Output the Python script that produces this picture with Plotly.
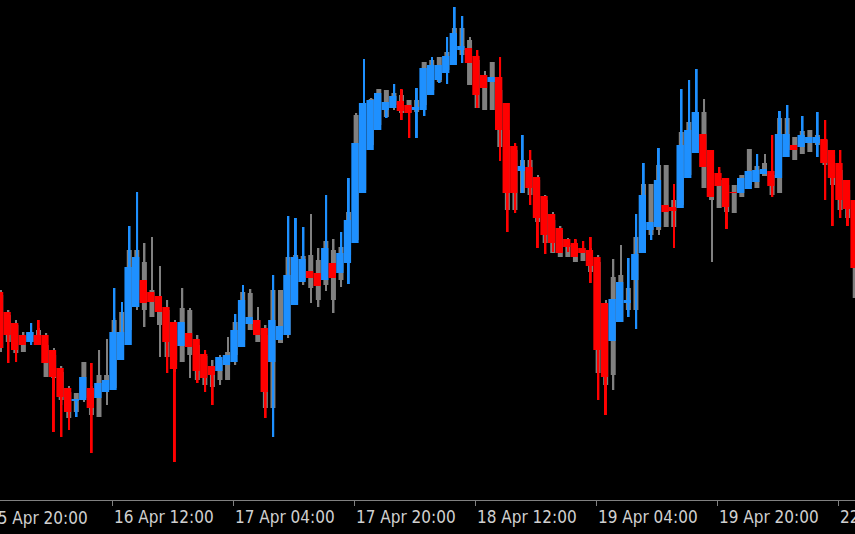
import plotly.graph_objects as go

# Hourly bars, index 0 = 15 Apr 20:00 (price in chart points)
bar_index = list(range(1, 115))

ha_open = [
    208, 188, 177, 165, 158, 165, 165, 150, 132, 112,
    99, 100, 112, 102, 108, 110, 140, 155, 193, 220,
    208, 204, 193, 178, 154, 167, 161, 146, 134, 129,
    135, 138, 153, 176, 180, 172, 138, 160, 165, 195,
    218, 229, 227, 220, 237, 227, 237, 257, 307, 350,
    370, 390, 392, 399, 395, 390, 390, 405, 420, 427,
    435, 450, 452, 444, 425, 418, 423, 397, 354, 329,
    333, 323, 304, 286, 272, 261, 257, 252, 250, 243,
    197, 159, 178, 197, 220, 247, 270, 273, 295, 293,
    292, 322, 347, 366, 350, 327, 322, 308, 307, 311,
    318, 326, 329, 322, 343, 355, 353, 357, 357, 361,
    350, 337, 320, 300]
ha_close = [
    152, 165, 150, 155, 168, 155, 137, 123, 103, 88,
    101, 123, 92, 117, 120, 168, 168, 233, 243, 197,
    198, 188, 158, 131, 178, 153, 129, 122, 125, 143,
    145, 170, 200, 183, 165, 108, 180, 174, 225, 243,
    241, 222, 214, 252, 222, 247, 280, 357, 397, 400,
    407, 398, 404, 389, 387, 393, 432, 435, 435, 444,
    467, 454, 437, 405, 412, 423, 370, 307, 307, 334,
    312, 282, 265, 257, 247, 253, 243, 247, 234, 150,
    123, 201, 218, 200, 246, 305, 278, 320, 288, 289,
    355, 370, 388, 333, 303, 314, 293, 307, 322, 329,
    330, 331, 314, 366, 366, 350, 365, 363, 363, 337,
    322, 300, 291, 232]
ha_high = [
    208, 188, 177, 165, 177, 180, 165, 150, 132, 112,
    101, 123, 137, 117, 120, 212, 198, 274, 308, 220,
    208, 204, 193, 178, 178, 167, 161, 150, 134, 143,
    145, 186, 215, 183, 180, 172, 225, 174, 284, 282,
    273, 229, 227, 305, 237, 268, 322, 357, 441, 400,
    407, 398, 416, 411, 395, 412, 432, 443, 435, 463,
    493, 484, 452, 450, 425, 423, 443, 397, 357, 365,
    350, 323, 304, 286, 272, 261, 261, 259, 263, 243,
    197, 201, 218, 242, 286, 337, 278, 352, 295, 316,
    411, 420, 431, 366, 350, 333, 322, 308, 322, 329,
    346, 331, 365, 389, 395, 355, 384, 363, 388, 380,
    350, 350, 320, 300]
ha_low = [
    152, 137, 138, 155, 155, 155, 137, 68, 63, 70,
    83, 100, 47, 102, 108, 110, 140, 155, 193, 197,
    198, 188, 127, 38, 154, 153, 117, 108, 95, 129,
    135, 138, 153, 176, 165, 82, 63, 160, 165, 195,
    218, 222, 214, 220, 222, 227, 216, 257, 307, 350,
    370, 382, 392, 380, 362, 362, 384, 405, 417, 416,
    435, 437, 437, 392, 412, 418, 339, 268, 287, 307,
    295, 252, 246, 248, 247, 248, 243, 247, 217, 100,
    85, 159, 178, 183, 171, 247, 260, 273, 288, 252,
    292, 322, 347, 333, 303, 314, 271, 307, 307, 311,
    318, 326, 303, 322, 343, 350, 353, 357, 343, 300,
    274, 282, 274, 232]

c_open = [
    205, 185, 175, 164, 158, 170, 155, 145, 128, 108,
    88, 102, 108, 83, 108, 112, 155, 170, 200, 238,
    210, 204, 190, 170, 138, 190, 155, 144, 130, 120,
    120, 145, 160, 170, 180, 165, 92, 157, 165, 200,
    220, 245, 240, 215, 250, 220, 245, 260, 310, 355,
    375, 383, 395, 405, 400, 388, 395, 410, 418, 430,
    440, 445, 460, 440, 425, 390, 410, 370, 350, 307,
    340, 320, 300, 280, 270, 255, 255, 252, 245, 238,
    180, 125, 178, 190, 190, 250, 265, 270, 335, 300,
    295, 325, 350, 388, 325, 320, 315, 315, 303, 315,
    312, 324, 325, 307, 350, 363, 346, 348, 355, 360,
    345, 330, 310, 290]
c_close = [
    152, 158, 147, 148, 168, 155, 123, 122, 100, 82,
    107, 138, 85, 125, 125, 180, 188, 250, 250, 190,
    183, 175, 143, 140, 192, 145, 120, 115, 113, 140,
    148, 178, 208, 207, 158, 92, 210, 210, 243, 245,
    244, 212, 200, 259, 200, 253, 288, 385, 397, 401,
    411, 410, 407, 387, 387, 400, 438, 440, 443, 448,
    472, 472, 415, 392, 390, 438, 353, 290, 290, 340,
    305, 278, 257, 247, 243, 243, 238, 239, 228, 127,
    115, 223, 225, 212, 263, 316, 316, 335, 273, 273,
    368, 378, 388, 312, 300, 292, 288, 287, 325, 351,
    334, 337, 305, 382, 382, 340, 369, 370, 365, 335,
    315, 290, 282, 202]
c_high = [
    210, 190, 180, 168, 174, 172, 167, 152, 134, 114,
    107, 138, 114, 150, 161, 182, 188, 250, 250, 257,
    263, 234, 200, 180, 212, 192, 165, 148, 140, 145,
    163, 178, 208, 211, 193, 175, 210, 210, 243, 245,
    244, 286, 252, 259, 261, 253, 288, 387, 400, 402,
    411, 410, 407, 410, 400, 400, 438, 440, 443, 448,
    472, 472, 463, 445, 429, 438, 429, 397, 354, 340,
    341, 325, 305, 288, 274, 262, 260, 255, 252, 245,
    200, 241, 255, 212, 263, 316, 316, 335, 335, 300,
    368, 378, 388, 401, 350, 330, 322, 315, 325, 351,
    335, 346, 330, 382, 382, 363, 369, 370, 365, 362,
    350, 337, 320, 300]
c_low = [
    148, 158, 147, 148, 155, 155, 123, 110, 95, 82,
    88, 98, 85, 83, 95, 110, 150, 155, 190, 173,
    183, 143, 143, 128, 138, 122, 120, 115, 113, 115,
    120, 135, 155, 170, 158, 92, 92, 157, 162, 195,
    215, 197, 193, 209, 187, 213, 237, 257, 307, 350,
    370, 383, 390, 387, 387, 388, 390, 405, 418, 427,
    435, 445, 415, 392, 390, 390, 353, 290, 287, 307,
    305, 278, 257, 247, 243, 243, 238, 239, 228, 127,
    110, 110, 178, 190, 190, 247, 265, 265, 273, 273,
    292, 322, 347, 312, 238, 292, 288, 287, 303, 311,
    312, 324, 305, 307, 343, 340, 346, 348, 355, 335,
    315, 290, 282, 202]

first_tick_index = 0
first_tick_label = "15 Apr 20:00"
tick_index = [16, 32, 48, 64, 80, 96, 112]
tick_labels = ["16 Apr 12:00", "17 Apr 04:00", "17 Apr 20:00", "18 Apr 12:00",
               "19 Apr 04:00", "19 Apr 20:00", "22 Apr 12:00"]

BLUE = "#1E90FF"
RED = "#FF0000"
GRAY = "#808080"
x_range = [1.058, 114.12]
y_range = [0, 500]

ha_colors = [BLUE if c >= o else RED for o, c in zip(ha_open, ha_close)]


def span(a, b, minh=1.0):
    lo = [min(p, q) for p, q in zip(a, b)]
    hi = [max(max(p, q) - min(p, q), minh) for p, q in zip(a, b)]
    return lo, hi


fig = go.Figure()

# regular candles (gray) behind
base, h = span(c_low, c_high)
fig.add_trace(go.Bar(x=bar_index, y=h, base=base, width=0.2, offset=0.09,
                     marker=dict(color=GRAY, line=dict(width=0)), hoverinfo="skip"))
base, h = span(c_open, c_close)
fig.add_trace(go.Bar(x=bar_index, y=h, base=base, width=0.66, offset=-0.18,
                     marker=dict(color=GRAY, line=dict(width=0)), hoverinfo="skip"))
# Heiken Ashi wicks and bodies
base, h = span(ha_low, ha_high)
fig.add_trace(go.Bar(x=bar_index, y=h, base=base, width=0.26, offset=0.06,
                     marker=dict(color=ha_colors, line=dict(width=0)), hoverinfo="skip"))
base, h = span(ha_open, ha_close)
fig.add_trace(go.Bar(x=bar_index, y=h, base=base, width=0.97, offset=-0.485,
                     marker=dict(color=ha_colors, line=dict(width=0)), hoverinfo="skip"))

label_font = dict(family="Liberation Sans Narrow, DejaVu Sans Condensed, Arial Narrow, sans-serif",
                  size=17, color="#D0D0D0")

fig.update_layout(
    width=855, height=534,
    margin=dict(l=0, r=0, t=0, b=34, autoexpand=False),
    paper_bgcolor="#000000", plot_bgcolor="#000000",
    barmode="overlay", showlegend=False,
    xaxis=dict(range=x_range, showgrid=False, zeroline=False, automargin=False,
               showline=True, linecolor=GRAY, linewidth=1,
               ticks="outside", ticklen=5, tickcolor=GRAY, tickwidth=1,
               tickvals=tick_index, ticktext=tick_labels,
               ticklabelposition="outside right", ticklabeloverflow="allow",
               ticklabelstandoff=2,
               tickfont=label_font),
    yaxis=dict(range=y_range, showgrid=False, zeroline=False, automargin=False,
               showticklabels=False, showline=False),
)

# first label whose tick lies just left of the visible range (partly cut by the edge)
fx = (first_tick_index - x_range[0]) / (x_range[1] - x_range[0])
fig.add_annotation(x=fx, y=0, xref="paper", yref="paper", text=first_tick_label,
                   showarrow=False, xanchor="left", yanchor="top", xshift=-6, yshift=-6,
                   font=label_font)

fig.write_html("out.html", config={"displayModeBar": False},
               post_script="document.body.style.margin='0';document.body.style.overflow='hidden';")
